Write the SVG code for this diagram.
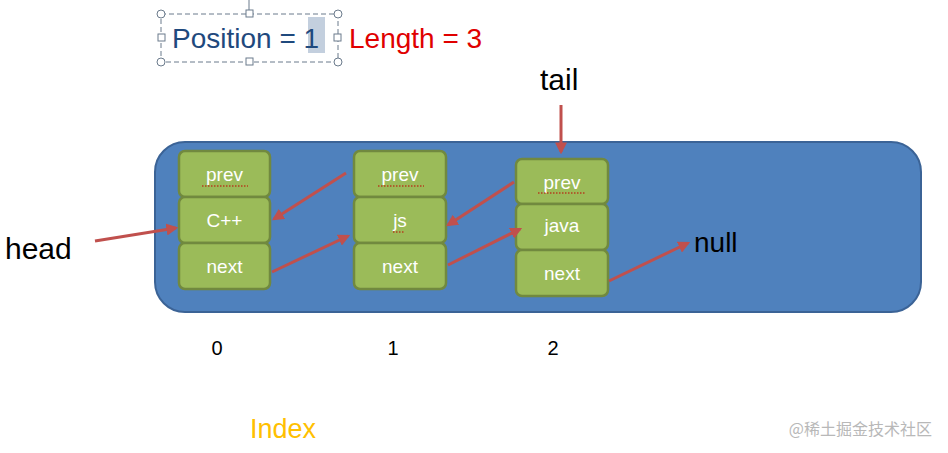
<svg xmlns="http://www.w3.org/2000/svg" width="948" height="453" viewBox="0 0 948 453">
<style>
.cell{fill:#9bbb59;stroke:#71893f;stroke-width:2.5}
.ct{font-family:"Liberation Sans",Arial,sans-serif;font-size:19px;fill:#fff;text-anchor:middle}
.ar{stroke:#c0504d;stroke-width:3;fill:none;marker-end:url(#ah)}
.lb{font-family:"Liberation Sans",Arial,sans-serif;fill:#000}
.sq{fill:none;stroke:#c00000;stroke-width:1;stroke-dasharray:1.5 1.5}
.h{fill:#fff;stroke:#6b7b8c;stroke-width:1}
</style>
<defs>
<marker id="ah" viewBox="0 0 10 10" refX="8" refY="5" markerWidth="4" markerHeight="4" orient="auto"><path d="M0,0 L10,5 L0,10 z" fill="#c0504d"/></marker>
</defs>
<rect width="948" height="453" fill="#fff"/>
<g id="title">
<rect x="161" y="14" width="177" height="48" fill="none" stroke="#6b7b8c" stroke-dasharray="5 3"/>
<rect x="308" y="17" width="17" height="36" fill="#c3cfde"/>
<circle class="h" cx="161" cy="14" r="4"/><circle class="h" cx="338" cy="14" r="4"/><circle class="h" cx="161" cy="62" r="4"/><circle class="h" cx="338" cy="62" r="4"/>
<rect class="h" x="246" y="10" width="7" height="7"/><rect class="h" x="246" y="58" width="7" height="7"/><rect class="h" x="158" y="34" width="7" height="7"/><rect class="h" x="334" y="34" width="7" height="7"/>
<line x1="249" y1="0" x2="249" y2="10" stroke="#6b7b8c"/>
<text x="172" y="48" font-family="Liberation Sans,Arial,sans-serif" font-size="28" fill="#1f497d">Position = 1</text>
<text x="349" y="48" font-family="Liberation Sans,Arial,sans-serif" font-size="28" fill="#e00000">Length = 3</text>
</g>
<g id="container"><rect x="155" y="142" width="766" height="170" rx="30" fill="#4f81bd" stroke="#3b6396" stroke-width="2"/></g>
<g id="node0">
<rect class="cell" x="179" y="151" width="91" height="46" rx="6"/><rect class="cell" x="179" y="197" width="91" height="46" rx="6"/><rect class="cell" x="179" y="243" width="91" height="46" rx="6"/>
<text class="ct" x="224.5" y="181">prev</text><text class="ct" x="224.5" y="227">C++</text><text class="ct" x="224.5" y="273">next</text>
<path class="sq" d="M202,186 h46"/>
</g>
<g id="node1">
<rect class="cell" x="354" y="151" width="92" height="46" rx="6"/><rect class="cell" x="354" y="197" width="92" height="46" rx="6"/><rect class="cell" x="354" y="243" width="92" height="46" rx="6"/>
<text class="ct" x="400" y="181">prev</text><text class="ct" x="400" y="227">js</text><text class="ct" x="400" y="273">next</text>
<path class="sq" d="M378,186 h46 M393,232 h12"/>
</g>
<g id="node2">
<rect class="cell" x="516" y="159" width="92" height="45" rx="6"/><rect class="cell" x="516" y="204" width="92" height="46" rx="6"/><rect class="cell" x="516" y="250" width="92" height="46" rx="6"/>
<text class="ct" x="562" y="189">prev</text><text class="ct" x="562" y="232" font-size="16">java</text><text class="ct" x="562" y="280">next</text>
<path class="sq" d="M538,193 h48"/>
</g>
<g id="labels">
<text class="lb" x="5" y="259" font-size="30">head</text>
<text class="lb" x="540" y="90" font-size="30">tail</text>
<text class="lb" x="694" y="252" font-size="28">null</text>
<text class="lb" x="217" y="355" font-size="20" text-anchor="middle">0</text>
<text class="lb" x="393" y="355" font-size="20" text-anchor="middle">1</text>
<text class="lb" x="553" y="355" font-size="20" text-anchor="middle">2</text>
<text x="250" y="438" font-family="Liberation Sans,Arial,sans-serif" font-size="27" fill="#ffc000">Index</text>
<text x="932" y="435" font-family="Noto Sans CJK SC,sans-serif" font-size="16" fill="#b8b8b8" text-anchor="end">@稀土掘金技术社区</text>
</g>
<g id="connectors">
<path class="ar" d="M95,241 L176,228"/>
<path class="ar" d="M346,173 L274,219"/>
<path class="ar" d="M272,272 L348,236"/>
<path class="ar" d="M514,182 L448,225"/>
<path class="ar" d="M448,265 L520,229"/>
<path class="ar" d="M561,105 L561,152"/>
<path class="ar" d="M609,281 L688,243"/>
</g>
</svg>
